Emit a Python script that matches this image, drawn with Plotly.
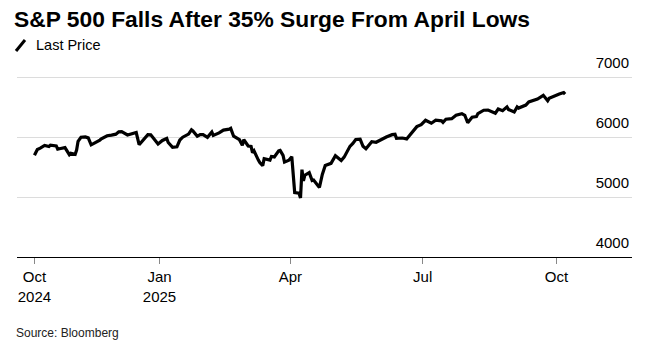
import plotly.graph_objects as go

dates = [
    "2024-10-07","2024-10-09","2024-10-11","2024-10-14","2024-10-17","2024-10-18","2024-10-22","2024-10-23",
    "2024-10-25","2024-10-28","2024-10-31","2024-11-01","2024-11-04","2024-11-05","2024-11-06","2024-11-08",
    "2024-11-11","2024-11-13","2024-11-15","2024-11-19","2024-11-21","2024-11-22","2024-11-26","2024-11-29",
    "2024-12-02","2024-12-04","2024-12-06","2024-12-10","2024-12-12","2024-12-16","2024-12-18","2024-12-20",
    "2024-12-24","2024-12-26","2024-12-30","2024-12-31","2025-01-03","2025-01-06","2025-01-07","2025-01-10",
    "2025-01-13","2025-01-15","2025-01-17","2025-01-21","2025-01-23","2025-01-24","2025-01-27","2025-01-29",
    "2025-01-31","2025-02-03","2025-02-06","2025-02-07","2025-02-11","2025-02-14","2025-02-18","2025-02-19",
    "2025-02-21","2025-02-25","2025-02-27","2025-02-28","2025-03-03","2025-03-05","2025-03-06","2025-03-07",
    "2025-03-10","2025-03-11","2025-03-13","2025-03-14","2025-03-18","2025-03-19","2025-03-21","2025-03-24",
    "2025-03-25","2025-03-27","2025-03-28","2025-03-31","2025-04-02","2025-04-03","2025-04-04","2025-04-07",
    "2025-04-08","2025-04-09","2025-04-10","2025-04-11","2025-04-14","2025-04-16","2025-04-17","2025-04-21",
    "2025-04-22","2025-04-23","2025-04-25","2025-04-29","2025-05-02","2025-05-06","2025-05-08","2025-05-12",
    "2025-05-14","2025-05-16","2025-05-19","2025-05-21","2025-05-23","2025-05-27","2025-05-30","2025-06-03",
    "2025-06-06","2025-06-10","2025-06-12","2025-06-13","2025-06-17","2025-06-20","2025-06-24","2025-06-27",
    "2025-06-30","2025-07-03","2025-07-07","2025-07-10","2025-07-14","2025-07-15","2025-07-17","2025-07-21",
    "2025-07-24","2025-07-28","2025-07-30","2025-08-01","2025-08-04","2025-08-07","2025-08-08","2025-08-12",
    "2025-08-15","2025-08-19","2025-08-20","2025-08-22","2025-08-25","2025-08-28","2025-08-29","2025-09-02",
    "2025-09-04","2025-09-05","2025-09-10","2025-09-12","2025-09-16","2025-09-18","2025-09-22","2025-09-25",
    "2025-09-26","2025-09-30","2025-10-02","2025-10-03","2025-10-06","2025-10-07",
]
last_price = [
    5696, 5792, 5815, 5859, 5841, 5864, 5851, 5797,
    5808, 5823, 5705, 5729, 5712, 5782, 5929, 5996,
    6001, 5985, 5870, 5917, 5949, 5969, 6021, 6032,
    6047, 6087, 6090, 6034, 6051, 6074, 5872, 5930,
    6040, 6037, 5907, 5882, 5942, 5975, 5909, 5827,
    5836, 5950, 5997, 6049, 6119, 6101, 6012, 6039,
    6041, 5994, 6083, 6026, 6068, 6115, 6130, 6144,
    6013, 5955, 5861, 5955, 5850, 5842, 5739, 5770,
    5615, 5573, 5522, 5639, 5615, 5675, 5668, 5768,
    5777, 5693, 5581, 5612, 5671, 5397, 5074, 5062,
    4983, 5457, 5268, 5363, 5406, 5276, 5283, 5158,
    5288, 5376, 5525, 5561, 5687, 5607, 5664, 5844,
    5892, 5958, 5964, 5845, 5803, 5922, 5912, 5970,
    6000, 6039, 6045, 5977, 5983, 5968, 6092, 6173,
    6205, 6279, 6230, 6280, 6269, 6244, 6297, 6306,
    6363, 6390, 6362, 6238, 6330, 6340, 6389, 6446,
    6450, 6411, 6396, 6467, 6439, 6502, 6460, 6416,
    6502, 6482, 6532, 6584, 6607, 6631, 6694, 6605,
    6644, 6688, 6715, 6716, 6740, 6715,
]

x_tick_vals = ["2024-10-07", "2025-01-01", "2025-04-01", "2025-07-01", "2025-10-01"]
x_tick_text = ["Oct<br>2024", "Jan<br>2025", "Apr", "Jul", "Oct"]
y_tick_vals = [4000, 5000, 6000, 7000]
y_tick_text = ["4000", "5000", "6000", "7000"]

FONT = "Liberation Sans, Arial, sans-serif"
W, H = 649, 342
ML, MR, MT, MB = 17, 17, 53, 85
PW, PH = W - ML - MR, H - MT - MB

def px(xp):
    return (xp - ML) / PW

def py(yp):
    return (H - MB - yp) / PH

fig = go.Figure()
fig.add_trace(go.Scatter(
    x=dates, y=last_price, mode="lines", name="Last Price",
    line=dict(color="black", width=3.2), showlegend=False,
))

fig.update_layout(
    width=W, height=H,
    margin=dict(l=ML, r=MR, t=MT, b=MB),
    paper_bgcolor="white", plot_bgcolor="white",
    font=dict(family=FONT, color="black"),
    title=dict(
        text="<b>S&P 500 Falls After 35% Surge From April Lows</b>",
        xref="container", yref="container", x=14 / W, y=1 - 19 / H,
        xanchor="left", yanchor="middle",
        font=dict(family=FONT, size=22.8, color="black"),
    ),
    xaxis=dict(
        type="date", range=["2024-09-25", "2025-11-22"],
        tickvals=x_tick_vals, ticktext=x_tick_text,
        ticks="outside", ticklen=6, tickwidth=1, tickcolor="#888888",
        showline=True, linecolor="black", linewidth=1,
        showgrid=False, zeroline=False,
        tickfont=dict(family=FONT, size=15, color="black"),
    ),
    yaxis=dict(
        side="right", range=[4000, 7400],
        tickvals=y_tick_vals, ticktext=y_tick_text,
        ticklabelposition="inside", ticklabelshift=-14,
        showgrid=True, gridcolor="#dcdcdc", gridwidth=1,
        showline=False, zeroline=False, ticks="",
        tickfont=dict(family=FONT, size=15, color="black"),
    ),
)

fig.add_shape(type="line", xref="paper", yref="paper",
              x0=px(16), y0=py(51), x1=px(25), y1=py(40),
              line=dict(color="black", width=3))
fig.add_annotation(text="Last Price", xref="paper", yref="paper",
                   x=px(34), y=py(45), xanchor="left", yanchor="middle",
                   showarrow=False, font=dict(family=FONT, size=14.5, color="black"))
fig.add_annotation(text="Source: Bloomberg", xref="paper", yref="paper",
                   x=px(14), y=py(333), xanchor="left", yanchor="middle",
                   showarrow=False, font=dict(family=FONT, size=12, color="#222222"))

fig.write_html("out.html")
